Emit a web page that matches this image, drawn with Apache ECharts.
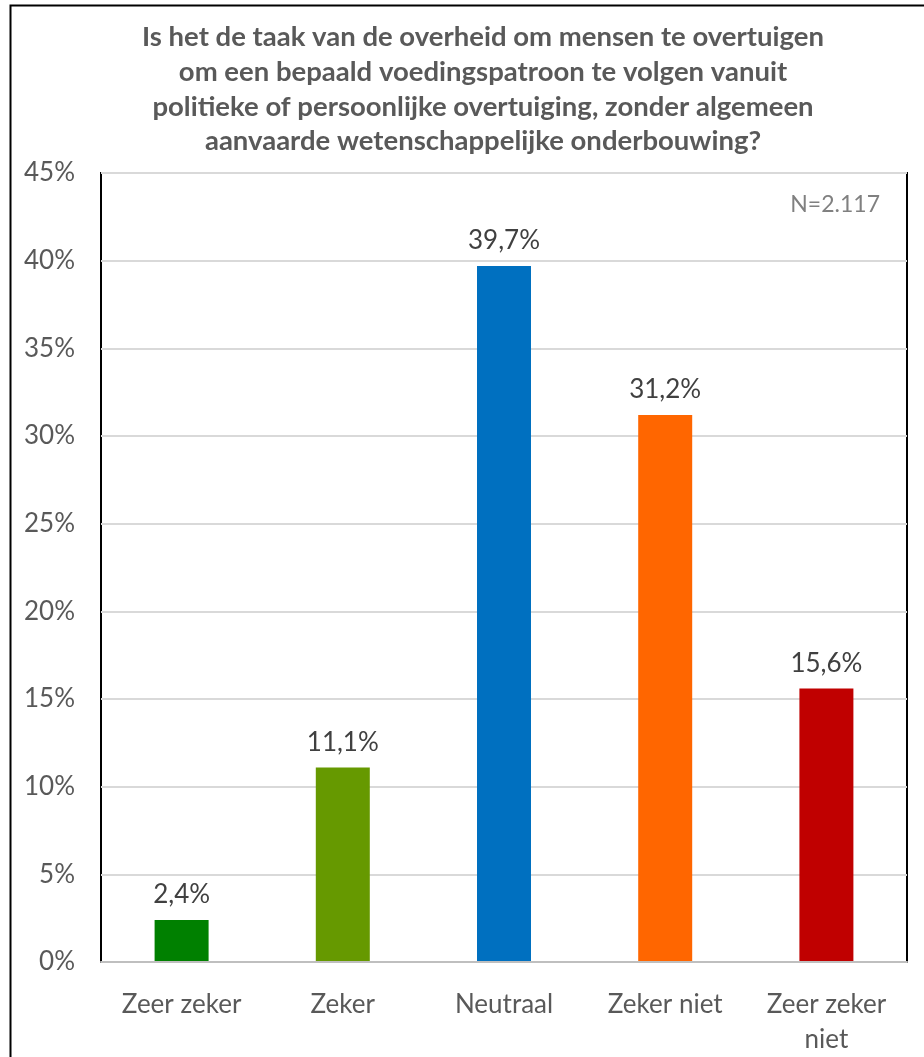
<!DOCTYPE html>
<html>
<head>
<meta charset="utf-8">
<script src="https://cdn.jsdelivr.net/npm/echarts@6/dist/echarts.min.js"></script>
<style>
html,body{margin:0;padding:0;background:#fff;}
#chart{width:924px;height:1057px;}
</style>
</head>
<body>
<div id="chart"></div>
<script>
const titleLines = [
  "Is het de taak van de overheid om mensen te overtuigen",
  "om een bepaald voedingspatroon te volgen vanuit",
  "politieke of persoonlijke overtuiging, zonder algemeen",
  "aanvaarde wetenschappelijke onderbouwing?"
];
const categories = ["Zeer zeker", "Zeker", "Neutraal", "Zeker niet", "Zeer zeker niet"];
const values = [2.4, 11.1, 39.7, 31.2, 15.6];
const barColors = ["#008000", "#669900", "#0070C0", "#FF6600", "#C00000"];
const sampleNote = "N=2.117";

const FONT = "Lato, 'Open Sans', sans-serif";
const chart = echarts.init(document.getElementById('chart'), null, {renderer: 'canvas'});
chart.setOption({
  animation: false,
  backgroundColor: '#fff',
  title: {
    text: titleLines.join('\n'),
    left: 478,
    top: 15,
    textAlign: 'center',
    textStyle: {fontFamily: FONT, fontWeight: 'bold', fontSize: 27.5, color: '#595959', lineHeight: 34.7}
  },
  graphic: [
    {type: 'rect', left: 8, top: 3, shape: {width: 1000, height: 1100},
     style: {fill: 'none', stroke: '#000', lineWidth: 2}, z: 100, silent: true},
    {type: 'text', right: 44, top: 193,
     style: {text: sampleNote, fontFamily: FONT, fontSize: 23, fill: '#808080'}, z: 100}
  ],
  grid: {left: 101, right: 17, top: 173, bottom: 91, show: true, borderColor: '#000', borderWidth: 2, backgroundColor: 'transparent'},
  xAxis: {
    type: 'category',
    data: categories,
    axisLine: {show: true, lineStyle: {color: '#BFBFBF', width: 2}},
    axisTick: {show: false},
    axisLabel: {
      fontFamily: FONT, fontSize: 26, color: '#595959', margin: 25, lineHeight: 35, interval: 0,
      formatter: function (v) {
        if (v.length > 12) { const i = v.lastIndexOf(' '); return v.slice(0, i) + '\n' + v.slice(i + 1); }
        return v;
      }
    },
    z: 10
  },
  yAxis: {
    type: 'value', min: 0, max: 45, interval: 5,
    axisLine: {show: false}, axisTick: {show: false},
    axisLabel: {fontFamily: FONT, fontSize: 26, color: '#595959', margin: 26, formatter: '{value}%'},
    splitLine: {lineStyle: {color: '#D9D9D9', width: 2}}
  },
  series: [{
    type: 'bar',
    data: values.map((v, i) => ({value: v, itemStyle: {color: barColors[i]}})),
    barWidth: 54,
    label: {
      show: true, position: 'top', distance: 12,
      fontFamily: FONT, fontSize: 26, color: '#404040',
      formatter: p => p.value.toFixed(1).replace('.', ',') + '%'
    }
  }]
});
</script>
</body>
</html>
